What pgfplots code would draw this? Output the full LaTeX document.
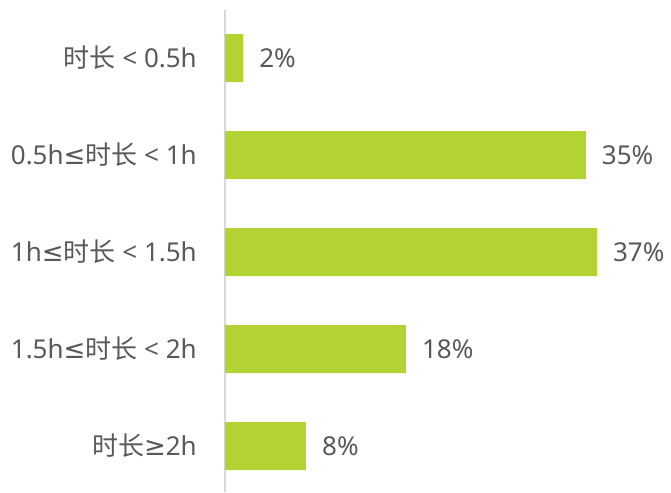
\documentclass[border=0pt]{standalone}
\usepackage{fontspec}
\setmainfont{Noto Sans}
\newfontfamily\cjk{Noto Sans CJK SC}
\newfontfamily\dv{DejaVu Sans}
\usepackage{pgfplots}
\pgfplotsset{compat=1.18}
\definecolor{barc}{HTML}{B3D335}
\definecolor{txt}{HTML}{595959}
\definecolor{axc}{HTML}{D9D9D9}
\newcommand{\shc}{{\cjk 时长}}
\newcommand{\myle}{{\dv ≤}}
\newcommand{\myge}{{\dv ≥}}
\begin{document}
\begin{tikzpicture}
\begin{axis}[
  xbar, scale only axis, width=446pt, height=482pt,
  xmin=0, xmax=44.38, ymin=-0.495, ymax=4.474, y dir=reverse,
  bar width=0.495,
  hide x axis,
  axis y line*=left,
  y axis line style={axc, line width=1.5pt},
  ytick={0,1,2,3,4},
  yticklabels={\shc{} < 0.5h, 0.5h\myle\shc{} < 1h, 1h\myle\shc{} < 1.5h, 1.5h\myle\shc{} < 2h, \shc\myge2h},
  major tick length=0pt,
  yticklabel style={font=\fontsize{26}{31}\selectfont, text=txt, inner sep=0pt, xshift=-28pt},
  point meta=explicit symbolic,
  nodes near coords,
  nodes near coords style={font=\fontsize{26}{31}\selectfont, text=txt, anchor=west, inner sep=0pt, xshift=16pt},
  clip=false,
]
\addplot[fill=barc, draw=none] coordinates {
  (1.8,0) [2\%]
  (35.9,1) [35\%]
  (37.0,2) [37\%]
  (18.0,3) [18\%]
  (8.06,4) [8\%]
};
\end{axis}
\path ([shift={(-225pt,0pt)}]current axis.south west) rectangle ([shift={(0pt,10pt)}]current axis.north east);
\end{tikzpicture}
\end{document}
